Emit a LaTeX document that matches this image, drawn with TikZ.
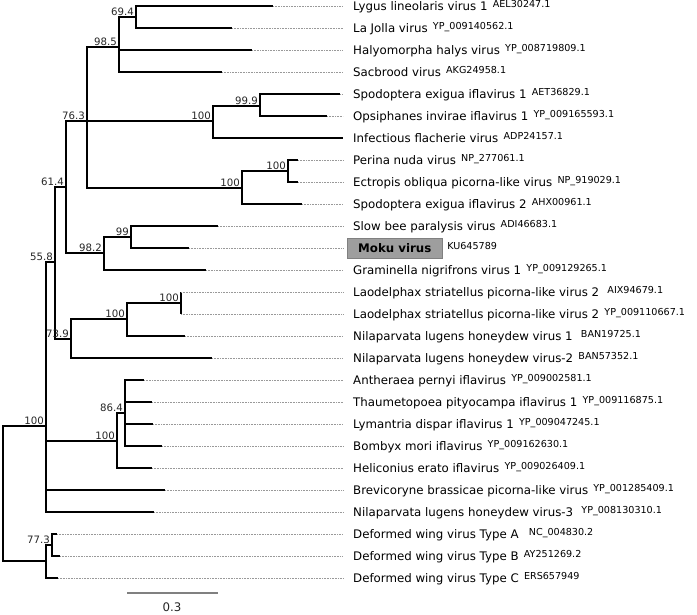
\documentclass[tikz,border=0pt]{standalone}
\usepackage{fontspec}
\setmainfont{DejaVu Sans}
\usetikzlibrary{positioning}
\newcommand{\accno}[1]{\hspace{1.5pt}\raisebox{2.8pt}{\fontsize{9.6}{10}\selectfont #1}}

\begin{document}
\begin{tikzpicture}[x=1pt, y=-1pt,
    branch/.style={line width=2pt},
    guide/.style={gray!80, line width=0.7pt, dash pattern=on 0.7pt off 0.9pt},
    tiplab/.style={anchor=mid west, inner sep=0pt, yshift=-1.5pt, font=\fontsize{11.8}{13}\selectfont},
    bootlab/.style={anchor=south east, inner xsep=2pt, inner ysep=1.5pt, text=black!85, font=\fontsize{10.2}{11}\selectfont},
    mokubox/.style={anchor=west, fill=black!38, draw=black!50, inner xsep=11pt, minimum height=20pt, font=\bfseries\fontsize{11.8}{13}\selectfont}]
    % Page size
    \useasboundingbox (0,0) rectangle (697,614);

    % Internal nodes (x of node, y of its stem)
    \coordinate (root) at (3,493);
    \coordinate (n100g) at (46,426);
    \coordinate (n558) at (55,262);
    \coordinate (n614) at (66,187);
    \coordinate (n763) at (87,121);
    \coordinate (n985) at (119,47);
    \coordinate (n694) at (136,17);
    \coordinate (n100a) at (213,121);
    \coordinate (n999) at (260,106);
    \coordinate (n100c) at (242,188);
    \coordinate (n100b) at (288,171);
    \coordinate (n982) at (104,253);
    \coordinate (n99) at (131,237);
    \coordinate (n739) at (71,339);
    \coordinate (n100e) at (127,319);
    \coordinate (n100d) at (181,303);
    \coordinate (n100f) at (117,441);
    \coordinate (n864) at (125,413);
    \coordinate (ndwv) at (46,561);
    \coordinate (n773) at (52,545);

    % Tip ends
    \coordinate (t1) at (273,6);
    \coordinate (t2) at (232,28);
    \coordinate (t3) at (252,50);
    \coordinate (t4) at (222,72);
    \coordinate (t5) at (340,94);
    \coordinate (t6) at (327,116);
    \coordinate (t7) at (343,138);
    \coordinate (t8) at (298,160);
    \coordinate (t9) at (298,182);
    \coordinate (t10) at (302,204);
    \coordinate (t11) at (218,226);
    \coordinate (t12) at (189,248);
    \coordinate (t13) at (206,270);
    \coordinate (t14) at (181,292);
    \coordinate (t15) at (181,314);
    \coordinate (t16) at (185,336);
    \coordinate (t17) at (212,358);
    \coordinate (t18) at (144,380);
    \coordinate (t19) at (152,402);
    \coordinate (t20) at (153,424);
    \coordinate (t21) at (162,446);
    \coordinate (t22) at (152,468);
    \coordinate (t23) at (165,490);
    \coordinate (t24) at (154,512);
    \coordinate (t25) at (57,534);
    \coordinate (t26) at (60,556);
    \coordinate (t27) at (58,578);
    \coordinate (gend) at (343,0);

    % Branches
    \draw[branch] (root) |- (n100g);
    \draw[branch] (root) |- (ndwv);
    \draw[branch] (n100g) |- (n558);
    \draw[branch] (n100g) |- (n100f);
    \draw[branch] (n100g) |- (t23);
    \draw[branch] (n100g) |- (t24);
    \draw[branch] (n558) |- (n614);
    \draw[branch] (n558) |- (n739);
    \draw[branch] (n614) |- (n763);
    \draw[branch] (n614) |- (n982);
    \draw[branch] (n763) |- (n985);
    \draw[branch] (n763) |- (n100a);
    \draw[branch] (n763) |- (n100c);
    \draw[branch] (n985) |- (n694);
    \draw[branch] (n985) |- (t3);
    \draw[branch] (n985) |- (t4);
    \draw[branch] (n694) |- (t1);
    \draw[branch] (n694) |- (t2);
    \draw[branch] (n100a) |- (n999);
    \draw[branch] (n100a) |- (t7);
    \draw[branch] (n999) |- (t5);
    \draw[branch] (n999) |- (t6);
    \draw[branch] (n100c) |- (n100b);
    \draw[branch] (n100c) |- (t10);
    \draw[branch] (n100b) |- (t8);
    \draw[branch] (n100b) |- (t9);
    \draw[branch] (n982) |- (n99);
    \draw[branch] (n982) |- (t13);
    \draw[branch] (n99) |- (t11);
    \draw[branch] (n99) |- (t12);
    \draw[branch] (n739) |- (n100e);
    \draw[branch] (n739) |- (t17);
    \draw[branch] (n100e) |- (n100d);
    \draw[branch] (n100e) |- (t16);
    \draw[branch] (n100d) |- (t14);
    \draw[branch] (n100d) |- (t15);
    \draw[branch] (n100f) |- (n864);
    \draw[branch] (n100f) |- (t22);
    \draw[branch] (n864) |- (t18);
    \draw[branch] (n864) |- (t19);
    \draw[branch] (n864) |- (t20);
    \draw[branch] (n864) |- (t21);
    \draw[branch] (ndwv) |- (n773);
    \draw[branch] (ndwv) |- (t27);
    \draw[branch] (n773) |- (t25);
    \draw[branch] (n773) |- (t26);

    % Dotted leaders to the names
    \draw[guide] (t1) -- (t1 -| gend);
    \draw[guide] (t2) -- (t2 -| gend);
    \draw[guide] (t3) -- (t3 -| gend);
    \draw[guide] (t4) -- (t4 -| gend);
    \draw[guide] (t5) -- (t5 -| gend);
    \draw[guide] (t6) -- (t6 -| gend);
    \draw[guide] (t8) -- (t8 -| gend);
    \draw[guide] (t9) -- (t9 -| gend);
    \draw[guide] (t10) -- (t10 -| gend);
    \draw[guide] (t11) -- (t11 -| gend);
    \draw[guide] (t12) -- (t12 -| gend);
    \draw[guide] (t13) -- (t13 -| gend);
    \draw[guide] (t14) -- (t14 -| gend);
    \draw[guide] (t15) -- (t15 -| gend);
    \draw[guide] (t16) -- (t16 -| gend);
    \draw[guide] (t17) -- (t17 -| gend);
    \draw[guide] (t18) -- (t18 -| gend);
    \draw[guide] (t19) -- (t19 -| gend);
    \draw[guide] (t20) -- (t20 -| gend);
    \draw[guide] (t21) -- (t21 -| gend);
    \draw[guide] (t22) -- (t22 -| gend);
    \draw[guide] (t23) -- (t23 -| gend);
    \draw[guide] (t24) -- (t24 -| gend);
    \draw[guide] (t25) -- (t25 -| gend);
    \draw[guide] (t26) -- (t26 -| gend);
    \draw[guide] (t27) -- (t27 -| gend);

    % Support values
    \node[bootlab] (b694) at (n694) {69.4};
    \node[bootlab] (b985) at (n985) {98.5};
    \node[bootlab] (b763) at (n763) {76.3};
    \node[bootlab] (b999) at (n999) {99.9};
    \node[bootlab] (b100a) at (n100a) {100};
    \node[bootlab] (b100b) at (n100b) {100};
    \node[bootlab] (b100c) at (n100c) {100};
    \node[bootlab] (b614) at (n614) {61.4};
    \node[bootlab] (b99) at (n99) {99};
    \node[bootlab] (b982) at (n982) {98.2};
    \node[bootlab] (b558) at (n558) {55.8};
    \node[bootlab] (b100d) at (n100d) {100};
    \node[bootlab] (b100e) at (n100e) {100};
    \node[bootlab] (b739) at (n739) {73.9};
    \node[bootlab] (b864) at (n864) {86.4};
    \node[bootlab] (b100f) at (n100f) {100};
    \node[bootlab] (b100g) at (n100g) {100};
    \node[bootlab] (b773) at (n773) {77.3};

    % Virus names
    \node[tiplab] (l1) at (353,6) {Lygus lineolaris virus 1 \accno{AEL30247.1}};
    \node[tiplab] (l2) at (353,28) {La Jolla virus \accno{YP\_009140562.1}};
    \node[tiplab] (l3) at (353,50) {Halyomorpha halys virus \accno{YP\_008719809.1}};
    \node[tiplab] (l4) at (353,72) {Sacbrood virus \accno{AKG24958.1}};
    \node[tiplab] (l5) at (353,94) {Spodoptera exigua iflavirus 1 \accno{AET36829.1}};
    \node[tiplab] (l6) at (353,116) {Opsiphanes invirae iflavirus 1 \accno{YP\_009165593.1}};
    \node[tiplab] (l7) at (353,138) {Infectious flacherie virus \accno{ADP24157.1}};
    \node[tiplab] (l8) at (353,160) {Perina nuda virus \accno{NP\_277061.1}};
    \node[tiplab] (l9) at (353,182) {Ectropis obliqua picorna-like virus \accno{NP\_919029.1}};
    \node[tiplab] (l10) at (353,204) {Spodoptera exigua iflavirus 2 \accno{AHX00961.1}};
    \node[tiplab] (l11) at (353,226) {Slow bee paralysis virus \accno{ADI46683.1}};
    \node[mokubox] (l12) at (347,248) {Moku virus};
    \node[tiplab, right=3pt of l12.east, anchor=mid west] (k12) {\accno{KU645789}};
    \node[tiplab] (l13) at (353,270) {Graminella nigrifrons virus 1 \accno{YP\_009129265.1}};
    \node[tiplab] (l14) at (353,292) {Laodelphax striatellus picorna-like virus 2 \hspace{3pt}\accno{AIX94679.1}};
    \node[tiplab] (l15) at (353,314) {Laodelphax striatellus picorna-like virus 2 \accno{YP\_009110667.1}};
    \node[tiplab] (l16) at (353,336) {Nilaparvata lugens honeydew virus 1 \hspace{3pt}\accno{BAN19725.1}};
    \node[tiplab] (l17) at (353,358) {Nilaparvata lugens honeydew virus-2 \accno{BAN57352.1}};
    \node[tiplab] (l18) at (353,380) {Antheraea pernyi iflavirus \accno{YP\_009002581.1}};
    \node[tiplab] (l19) at (353,402) {Thaumetopoea pityocampa iflavirus 1 \accno{YP\_009116875.1}};
    \node[tiplab] (l20) at (353,424) {Lymantria dispar iflavirus 1 \accno{YP\_009047245.1}};
    \node[tiplab] (l21) at (353,446) {Bombyx mori iflavirus \accno{YP\_009162630.1}};
    \node[tiplab] (l22) at (353,468) {Heliconius erato iflavirus \accno{YP\_009026409.1}};
    \node[tiplab] (l23) at (353,490) {Brevicoryne brassicae picorna-like virus \accno{YP\_001285409.1}};
    \node[tiplab] (l24) at (353,512) {Nilaparvata lugens honeydew virus-3 \hspace{3pt}\accno{YP\_008130310.1}};
    \node[tiplab] (l25) at (353,534) {Deformed wing virus Type A \hspace{5pt}\accno{NC\_004830.2}};
    \node[tiplab] (l26) at (353,556) {Deformed wing virus Type B \accno{AY251269.2}};
    \node[tiplab] (l27) at (353,578) {Deformed wing virus Type C \accno{ERS657949}};

    % Scale bar
    \coordinate (s0) at (127,593);
    \coordinate (s1) at (218,593);
    \draw[gray, line width=1.5pt] (s0) -- (s1);
    \node[font=\fontsize{11.8}{13}\selectfont, text=black!85] (sl) at (172,607) {0.3};
\end{tikzpicture}
\end{document}
